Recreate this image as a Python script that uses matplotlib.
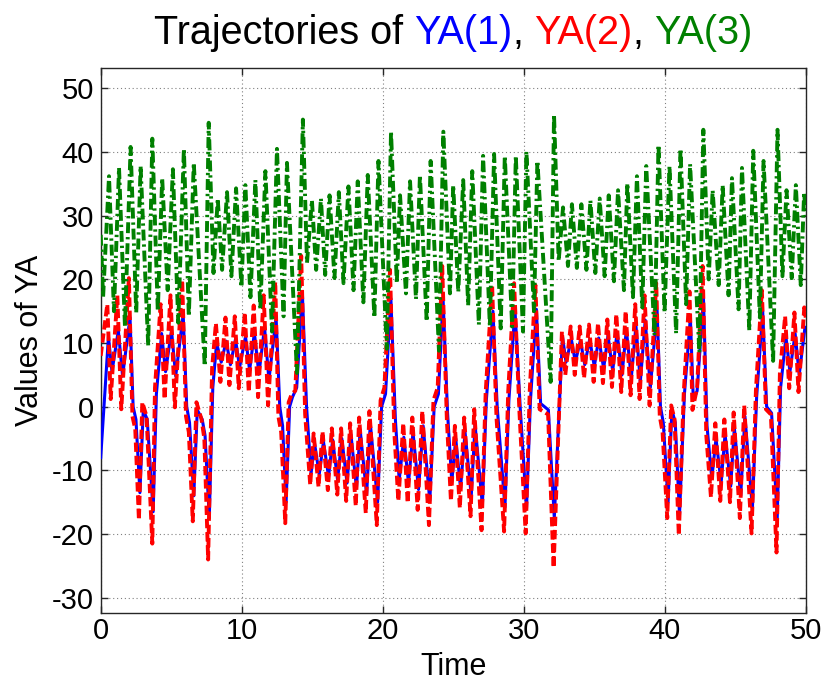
import matplotlib
matplotlib.use("Agg")
import matplotlib.pyplot as plt
import numpy as np

plt.rcParams['font.family'] = ['Liberation Sans', 'DejaVu Sans']

# ---- data: extrema (time, value) ----
ya1_t = [0, 0.55, 0.8, 1.25, 1.55, 2.08, 2.3, 2.5, 2.78, 3.02, 3.3, 3.72, 3.95, 4.32, 4.6, 5.02, 5.32, 5.85,
         6.1, 6.3, 6.6, 6.85, 7.2, 7.4, 7.7, 7.95, 8.22, 8.55, 8.9, 9.2, 9.56, 9.85, 10.27, 10.56, 10.9, 11.22,
         11.62, 11.93, 12.44, 12.7, 12.9, 13.15, 13.4, 13.6, 13.9, 14.3, 14.6, 14.92, 15.17, 15.5, 15.8, 16.16,
         16.45, 16.8, 17.1, 17.47, 17.75, 18.14, 18.4, 18.86, 19.12, 19.64, 19.92, 20.2, 20.58, 20.9, 21.17,
         21.5, 21.83, 22.15, 22.54, 22.87, 23.34, 23.65, 23.95, 24.28, 24.6, 24.9, 25.18, 25.52, 25.84, 26.28,
         26.55, 27.07, 27.35, 27.82, 28.12, 28.67, 28.95, 29.38, 29.75, 30.2, 30.48, 30.9, 31.2, 31.75, 32.17,
         32.75, 33.0, 33.38, 33.66, 34.02, 34.33, 34.68, 35.01, 35.32, 35.67, 35.98, 36.31, 36.62, 36.97,
         37.28, 37.63, 37.96, 38.27, 38.62, 38.98, 39.46, 39.7, 39.9, 40.24, 40.51, 40.75, 41.05, 41.4, 41.82,
         42.03, 42.3, 42.75, 43.0, 43.34, 43.64, 44.0, 44.28, 44.68, 44.94, 45.39, 45.69, 46.22, 46.52, 46.95,
         47.23, 47.58, 47.98, 48.22, 48.6, 48.88, 49.25, 49.54, 49.95, 50.0]
ya1_v = [-8, 11, 5.5, 12, 4.8, 14, 0, -2, -13.5, -0.5, -2, -16.5, 2, 11.5, 5.5, 12, 4.8, 14.5,
         0, -2.5, -14, -0.5, -2, -4.5, -17.5, 3, 10, 7, 10.3, 6.6, 10.6, 6.2, 11, 5.7, 11.6, 5.1,
         12.5, 4.2, 14, 0, -3, -15, 0, 1.5, 3, 18, 0, -10.5, -5.8, -10.6, -5.5, -11,
         -5.2, -11.5, -5, -12, -4.4, -12.8, -3.6, -13.8, -2.6, -15, 0, 2, 17, -2, -11.5,
         -4.8, -12, -4, -13, -3, -14.8, 0, 2, 17, -1, -11.8, -5, -12.8, -4, -14,
         -2.8, -15.5, 1, 15, 0, -15.8, 1, 15.3, 0, -16, 1, 15.3, 0.5, -0.5, -17.5,
         11, 7, 10.6, 7, 10.4, 6.6, 10.6, 6.3, 10.8, 6, 11.2, 5.6, 11.7, 5,
         12.1, 4.5, 12.8, 3.9, 13.6, 3, 15.2, 0, -2.5, -15, -0.5, -2.5, -17, 2, 14,
         1, 2.5, 17, -3, -11.3, -5, -12, -4.3, -12.5, -3.3, -14, -1.5, -16, 1.5, 15,
         0, -1, -17.5, 3, 11, 5.5, 11.5, 5, 12.5, 12.4]

ya2_t = [0, 0.47, 0.71, 1.18, 1.46, 2.0, 2.25, 2.45, 2.71, 2.95, 3.25, 3.66, 3.85, 4.25, 4.53, 4.95, 5.26,
         5.78, 6.05, 6.25, 6.53, 6.79, 7.15, 7.35, 7.62, 7.9, 8.17, 8.49, 8.85, 9.13, 9.51, 9.79, 10.22,
         10.5, 10.85, 11.16, 11.56, 11.87, 12.38, 12.6, 12.8, 13.09, 13.33, 13.55, 13.8, 14.22, 14.5, 14.86,
         15.1, 15.45, 15.73, 16.11, 16.39, 16.78, 17.05, 17.41, 17.69, 18.09, 18.33, 18.8, 19.06, 19.58,
         19.85, 20.12, 20.52, 20.82, 21.11, 21.46, 21.77, 22.1, 22.48, 22.81, 23.28, 23.6, 23.9, 24.22,
         24.55, 24.84, 25.12, 25.47, 25.78, 26.23, 26.49, 27.01, 27.3, 27.76, 28.07, 28.61, 28.9, 29.32,
         29.7, 30.14, 30.43, 30.83, 31.13, 31.73, 32.12, 32.71, 32.95, 33.33, 33.62, 33.97, 34.28, 34.63,
         34.96, 35.27, 35.62, 35.93, 36.26, 36.57, 36.92, 37.23, 37.58, 37.91, 38.22, 38.57, 38.93, 39.4,
         39.65, 39.85, 40.18, 40.46, 40.7, 41.0, 41.35, 41.76, 41.97, 42.3, 42.69, 42.95, 43.28, 43.59,
         43.94, 44.23, 44.63, 44.89, 45.33, 45.64, 46.16, 46.47, 46.89, 47.18, 47.53, 47.93, 48.17, 48.54,
         48.83, 49.2, 49.49, 49.9, 50.0]
ya2_v = [8, 16.1, 1.2, 17.5, -0.4, 20.2, -1.5, -3.5, -17.8, 0.7, -1.5, -21.5, 3, 16.1, 1.2, 17.5, -0.1,
         19.9, -1.5, -4, -18, 0.7, -2, -5, -24, 6, 13.1, 3.9, 14.0, 3.4, 14.2, 2.9, 14.8,
         2.3, 15.9, 1.5, 17.5, 0.2, 19.6, -1.5, -4, -18.3, 0.7, 2, 2.5, 23.7, -1.2, -12.3,
         -4.2, -12.6, -3.9, -13.1, -3.4, -13.8, -3.4, -14.8, -2.6, -15.6, -1.7, -16.7, -0.7, -18.6,
         1.0, 3.0, 21.5, -3.9, -14.8, -2.6, -15.1, -1.7, -16.2, -0.7, -18.6, 1.0, 3.0, 22.1,
         -2.0, -14.8, -3.0, -15.9, -1.7, -17.2, -0.4, -19.4, 2.1, 19.1, -1.7, -19.6, 2.3, 19.4,
         -0.9, -19.9, 2.6, 19.1, -0.4, -1.2, -25.3, 11.8, 5.0, 12.6, 5.0, 12.6, 4.5, 12.9,
         3.9, 13.1, 3.7, 13.7, 3.1, 14.5, 2.3, 15.0, 1.8, 16.1, 1.2, 17.5, 0.2, 19.4,
         -1.5, -4, -17.5, 0.2, -2, -20.2, 2.1, 18.1, -0.5, 3, 22.1, -4.5, -14.2, -2.6,
         -14.8, -2.0, -15.0, -0.9, -17.5, 0.2, -19.9, 2.6, 18.3, -0.4, -1.2, -22.9, 5.3, 14.2,
         2.9, 14.8, 2.3, 15.6, 14.0]

ya3_t = [0, 0.17, 0.59, 0.94, 1.30, 1.72, 2.12, 2.52, 2.83, 3.37, 3.66, 4.05, 4.36, 4.75, 5.12, 5.5, 5.9,
         6.25, 6.6, 7.38, 7.66, 8.0, 8.3, 8.61, 8.96, 9.27, 9.6, 9.98, 10.26, 10.62, 10.97, 11.32, 11.68,
         12.15, 12.5, 12.97, 13.21, 13.92, 14.34, 14.63, 14.98, 15.28, 15.62, 15.92, 16.23, 16.58, 16.89,
         17.22, 17.57, 17.93, 18.23, 18.63, 18.94, 19.41, 19.7, 20.29, 20.59, 21.0, 21.23, 21.65, 21.94,
         22.36, 22.64, 23.12, 23.4, 23.99, 24.3, 24.77, 25.0, 25.36, 25.71, 26.06, 26.35, 26.82, 27.12,
         27.6, 27.9, 28.37, 28.66, 29.18, 29.44, 29.95, 30.19, 30.73, 30.97, 31.91, 32.15, 32.48, 32.79,
         33.14, 33.42, 33.77, 34.09, 34.45, 34.73, 35.08, 35.39, 35.74, 36.03, 36.4, 36.69, 37.11, 37.35,
         37.75, 38.03, 38.41, 38.69, 39.28, 39.56, 39.99, 40.34, 40.81, 41.12, 41.52, 41.8, 42.46, 42.74,
         43.12, 43.4, 43.83, 44.11, 44.53, 44.77, 45.24, 45.48, 46.0, 46.28, 46.75, 47.01, 47.69, 48.0,
         48.35, 48.64, 49.01, 49.3, 49.65, 49.89, 50.0]
ya3_v = [27, 17.2, 36.2, 15.0, 37.5, 12.6, 40.8, 14.8, 37.8, 9.6, 42.1, 15.0, 35.9, 18.3, 37.3, 13.2, 40.5,
         14.2, 38.3, 6.4, 44.6, 21.0, 32.7, 21.5, 33.7, 20.5, 34.3, 18.8, 34.8, 17.2, 35.6, 15.3, 37.0,
         11.8, 40.5, 14.2, 38.3, 5.3, 45.1, 22.6, 32.4, 21.5, 32.7, 20.7, 33.2, 20.2, 33.7,
         19.4, 34.6, 18.3, 35.4, 16.4, 36.4, 14.0, 38.6, 9.1, 43.2, 19.4, 33.2, 17.8, 35.4,
         16.9, 36.4, 13.4, 38.6, 8.8, 43.2, 17.8, 34.8, 18.0, 35.6, 15.9, 37.0, 12.9, 39.4,
         12.6, 39.7, 12.3, 39.4, 12.6, 39.4, 11.8, 40.1, 15.0, 38.6, 3.9, 45.9, 22.9, 31.3,
         22.1, 31.8, 21.8, 31.8, 21.5, 32.4, 21.0, 32.7, 20.5, 33.2, 19.7, 34.0, 18.3, 35.1,
         17.2, 36.2, 15.6, 37.8, 11.2, 41.1, 14.8, 37.8, 11.5, 40.5, 16.1, 38.1, 8.5, 43.5,
         20.0, 34.0, 19.1, 34.8, 17.5, 35.9, 15.3, 37.5, 12.0, 40.2, 14.0, 38.6, 7.2, 43.5,
         20.5, 34.0, 20.2, 34.8, 19.1, 33.7, 30.0]

xticks = [0, 10, 20, 30, 40, 50]
yticks = [-30, -20, -10, 0, 10, 20, 30, 40, 50]

# ---- figure ----
W, H = 827, 686
fig = plt.figure(figsize=(W / 100, H / 100), dpi=100)
ax = fig.add_axes([100.7 / W, 1 - 613 / H, (805.7 - 100.7) / W, (613 - 68) / H])

ax.plot(ya1_t, ya1_v, color=(0, 0, 1), lw=2.2, ls='-', zorder=3)
ax.plot(ya2_t, ya2_v, color=(1, 0, 0), lw=2.8, ls=(0, (2.4, 1.0)), zorder=4)
ax.plot(ya3_t, ya3_v, color=(0, 0.5, 0), lw=2.8, ls=(0, (2.8, 1.0, 0.6, 1.0)), zorder=5)

ax.set_xlim(0, 50)
ax.set_ylim(-32.4, 53.2)
ax.set_xticks(xticks)
ax.set_yticks(yticks)
ax.set_xticklabels([str(v) for v in xticks])
ax.set_yticklabels([str(v) for v in yticks])
ax.grid(True, color=(0.5, 0.5, 0.5), lw=0.8, ls=(0, (1, 2.5)))
ax.set_axisbelow(True)
for s in ax.spines.values():
    s.set_color((0.15, 0.15, 0.15))
    s.set_linewidth(1.0)
ax.tick_params(direction='in', length=5, width=1, color=(0.15, 0.15, 0.15),
               top=True, right=True, labelsize=21)
ax.tick_params(axis='x', pad=3)
ax.tick_params(axis='y', pad=5)
ax.set_xlabel('Time', fontsize=22, labelpad=5)
ax.set_ylabel('Values of YA', fontsize=22, labelpad=5)

# ---- multi-coloured title ----
parts = [("Trajectories of", 'black'), ("YA(1)", (0, 0, 1)), (",", 'black'),
         ("YA(2)", (1, 0, 0)), (",", 'black'), ("YA(3)", (0, 0.5, 0))]
gap_after = [True, False, True, False, True, False]
fs = 28.5
fig.canvas.draw()
r = fig.canvas.get_renderer()
tmp1 = fig.text(0, 0, "a a", fontsize=fs)
tmp2 = fig.text(0, 0, "aa", fontsize=fs)
space_w = tmp1.get_window_extent(r).width - tmp2.get_window_extent(r).width
tmp1.remove(); tmp2.remove()
texts = []
widths = []
for s, c in parts:
    t = fig.text(0, 0, s, color=c, fontsize=fs, ha='left', va='baseline')
    texts.append(t)
    widths.append(t.get_window_extent(r).width)
total = sum(widths) + space_w * sum(gap_after[:-1])
pos = ax.get_position()
xc = (pos.x0 + pos.x1) / 2 * W
x = xc - total / 2
y_base = 1 - 44 / H
for t, w, g in zip(texts, widths, gap_after):
    t.set_position((x / W, y_base))
    x += w + (space_w if g else 0)

fig.savefig("out.png", dpi=100, facecolor='white')
